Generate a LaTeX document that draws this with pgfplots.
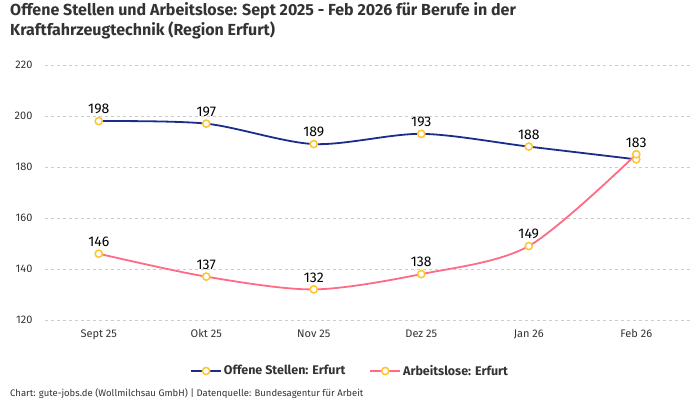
\documentclass[border=0pt]{standalone}
\usepackage{pgfplots}
\pgfplotsset{compat=1.18}
\usepackage{fontspec}
\setmainfont{Fira Sans}
\definecolor{navy}{HTML}{1C2C8C}
\definecolor{pink}{HTML}{FF6B85}
\definecolor{gold}{HTML}{FFC42E}
\definecolor{txt}{HTML}{333333}
\definecolor{gridgray}{HTML}{CCCCCC}

\begin{document}
\begin{tikzpicture}
\useasboundingbox (0,0) rectangle (700pt,400pt);

\node[anchor=base west, inner sep=0, text=txt, font=\fontsize{16}{19}\selectfont\bfseries] at (10pt,384pt) {Offene Stellen und Arbeitslose: Sept 2025 - Feb 2026 für Berufe in der};
\node[anchor=base west, inner sep=0, text=txt, font=\fontsize{16}{19}\selectfont\bfseries] at (10pt,364pt) {Kraftfahrzeugtechnik (Region Erfurt)};

\begin{axis}[
    at={(45pt,80pt)}, anchor=south west,
    width=645pt, height=255pt, scale only axis,
    xmin=-0.5, xmax=5.5,
    ymin=120, ymax=220,
    axis line style={draw=none},
    xtick={0,...,5},
    xticklabels={Sept 25,Okt 25,Nov 25,Dez 25,Jan 26,Feb 26},
    ytick={120,140,...,220},
    xmajorgrids=false,
    ymajorgrids=true,
    major grid style={draw=gridgray, dashed, line width=0.6pt},
    tick style={draw=none},
    ticklabel style={text=txt, font=\fontsize{11}{13}\selectfont},
    yticklabel style={anchor=east, xshift=-9pt},
    xticklabel style={yshift=-6pt},
    /pgf/number format/assume math mode=true,
    clip=false,
    point meta=explicit symbolic,
    nodes near coords,
    every node near coord/.style={text=black, font=\fontsize{14}{16}\selectfont, anchor=south, yshift=3pt},
    every axis plot/.append style={line width=1.8pt, smooth, tension=0.5},
    mark size=3.6pt,
    mark options={draw=gold, fill=white, line width=1.5pt},
    legend style={at={(0.473,-0.2)}, anchor=center, draw=none, legend columns=2,
        font=\fontsize{12.5}{15}\selectfont\bfseries, text=txt,
        /tikz/every even column/.append style={column sep=22pt}},
    legend image code/.code={
        \draw[#1, mark=none] (0pt,0pt) -- (30pt,0pt);
        \draw[#1, only marks] plot coordinates {(15pt,0pt)};
    },
]
\addplot[navy, mark=*] coordinates {
    (0,198) [198]
    (1,197) [197]
    (2,189) [189]
    (3,193) [193]
    (4,188) [188]
    (5,183) []
};
\addlegendentry{Offene Stellen: Erfurt}
\addplot[pink, mark=*] coordinates {
    (0,146) [146]
    (1,137) [137]
    (2,132) [132]
    (3,138) [138]
    (4,149) [149]
    (5,185) []
};
\addlegendentry{Arbeitslose: Erfurt}
% label of the last blue point, set on top of both markers
\addplot[draw=none, mark=none, forget plot,
    every node near coord/.append style={yshift=5pt}] coordinates {(5,183) [183]};
\end{axis}

\node[anchor=base west, inner sep=0, text=txt, font=\fontsize{9.5}{11}\selectfont] at (10pt,4pt) {Chart: gute-jobs.de (Wollmilchsau GmbH) | Datenquelle: Bundesagentur für Arbeit};
\end{tikzpicture}
\end{document}
